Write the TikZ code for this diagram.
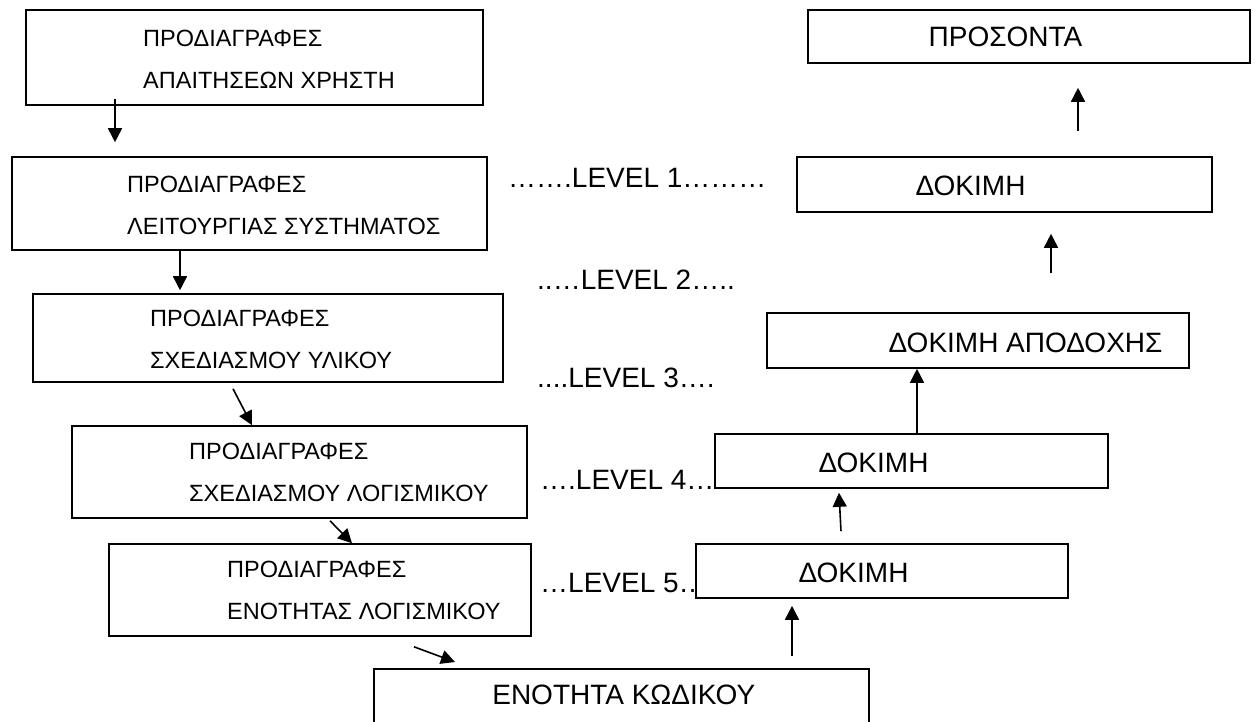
\documentclass[tikz,border=0pt]{standalone}
\usepackage{fontspec}
\setmainfont{Liberation Sans}
\usetikzlibrary{arrows.meta}

\tikzset{
  box/.style={draw, line width=1.6pt, fill=white, inner sep=0pt},
  spec/.style={anchor=west, align=left, inner sep=0pt, font=\fontsize{23.5}{42}\selectfont},
  testlbl/.style={inner sep=0pt, font=\fontsize{28}{34}\selectfont},
  lvl/.style={anchor=west, inner sep=0pt, font=\fontsize{28}{34}\selectfont},
  arr/.style={line width=1.6pt, -{Triangle[length=14pt,width=14pt]}}
}

\begin{document}
\begin{tikzpicture}[x=1pt,y=-1pt]
		\useasboundingbox (0,0) rectangle (1256,721);
		% levels
		\node[lvl] (l1) at (508,178) {…….LEVEL 1………};
		\node[lvl] (l2) at (537,280) {..…LEVEL 2…..};
		\node[lvl] (l3) at (537,378) {....LEVEL 3….};
		\node[lvl] (l4) at (540,480) {….LEVEL 4…};
		\node[lvl] (l5) at (540,583) {…LEVEL 5…};
		% specifications
		\node[box,minimum width=457pt,minimum height=95pt] (b1) at (254.5,57.5) {};
		\node[spec] (b1t) at (143,59.5) {ΠΡΟΔΙΑΓΡΑΦΕΣ\\ΑΠΑΙΤΗΣΕΩΝ ΧΡΗΣΤΗ};
		\node[box,minimum width=475pt,minimum height=93pt] (b2) at (249.5,203.5) {};
		\node[spec] (b2t) at (127,205) {ΠΡΟΔΙΑΓΡΑΦΕΣ\\ΛΕΙΤΟΥΡΓΙΑΣ ΣΥΣΤΗΜΑΤΟΣ};
		\node[box,minimum width=470pt,minimum height=88pt] (b3) at (268,338) {};
		\node[spec] (b3t) at (150,339.5) {ΠΡΟΔΙΑΓΡΑΦΕΣ\\ΣΧΕΔΙΑΣΜΟΥ ΥΛΙΚΟΥ};
		\node[box,minimum width=455pt,minimum height=92pt] (b4) at (299.5,472) {};
		\node[spec] (b4t) at (189,472) {ΠΡΟΔΙΑΓΡΑΦΕΣ\\ΣΧΕΔΙΑΣΜΟΥ ΛΟΓΙΣΜΙΚΟΥ};
		\node[box,minimum width=422pt,minimum height=92pt] (b5) at (320,590) {};
		\node[spec] (b5t) at (227,590) {ΠΡΟΔΙΑΓΡΑΦΕΣ\\ΕΝΟΤΗΤΑΣ ΛΟΓΙΣΜΙΚΟΥ};
		\node[box,anchor=north,minimum width=495pt,minimum height=80pt] (b6) at (621.5,668) {};
		\node[testlbl] (b6t) at (623.8,695) {ΕΝΟΤΗΤΑ ΚΩΔΙΚΟΥ};
		% tests
		\node[box,minimum width=372pt,minimum height=54pt] (r5) at (882,571) {};
		\node[testlbl] (r5t) at (853.5,572.5) {ΔΟΚΙΜΗ};
		\node[box,minimum width=393pt,minimum height=54pt] (r4) at (911.5,461) {};
		\node[testlbl] (r4t) at (873.5,462.5) {ΔΟΚΙΜΗ};
		\node[box,minimum width=422pt,minimum height=55pt] (r3) at (978,340.5) {};
		\node[testlbl] (r3t) at (1025.5,342.5) {ΔΟΚΙΜΗ ΑΠΟΔΟΧΗΣ};
		\node[box,minimum width=415pt,minimum height=55pt] (r2) at (1004.5,184.5) {};
		\node[testlbl] (r2t) at (970.5,186) {ΔΟΚΙΜΗ};
		\node[box,minimum width=442pt,minimum height=53pt] (r1) at (1029,36.5) {};
		\node[testlbl] (r1t) at (1005.5,37) {ΠΡΟΣΟΝΤΑ};
		% down the left side
		\draw[arr] ([xshift=-139.5pt,yshift=7pt]b1.south) -- ([xshift=-134.5pt,yshift=14pt]b2.north);
		\draw[arr] ([xshift=-69.5pt]b2.south) -- ([xshift=-88pt,yshift=3pt]b3.north);
		\draw[arr] ([xshift=-35pt,yshift=-6pt]b3.south) -- ([xshift=-47.5pt]b4.north);
		\draw[arr] ([xshift=30.5pt,yshift=-2pt]b4.south) -- ([xshift=32pt]b5.north);
		\draw[arr] ([xshift=94pt,yshift=-10pt]b5.south) -- ([xshift=-166.5pt,yshift=6pt]b6.north);
		% up the right side
		\draw[arr] ([xshift=170.5pt,yshift=12pt]b6.north) -- ([xshift=-90pt,yshift=-7pt]r5.south);
		\draw[arr] ([xshift=-41pt,yshift=12pt]r5.north) -- ([xshift=-72.5pt,yshift=-4pt]r4.south);
		\draw[arr] ([xshift=5.5pt]r4.north) -- ([xshift=-61pt]r3.south);
		\draw[arr] ([xshift=73pt,yshift=39pt]r3.north) -- ([xshift=46.5pt,yshift=-21pt]r2.south);
		\draw[arr] ([xshift=73.5pt,yshift=25pt]r2.north) -- ([xshift=49pt,yshift=-24pt]r1.south);
\end{tikzpicture}
\end{document}
